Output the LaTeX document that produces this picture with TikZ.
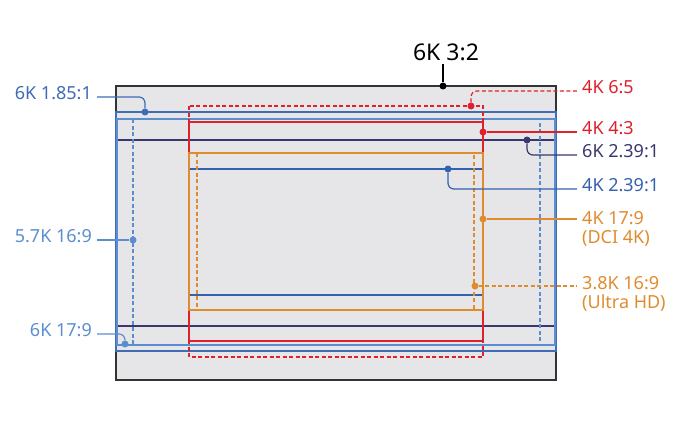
\documentclass[tikz,border=0pt]{standalone}
\usepackage{fontspec}
\setmainfont{Noto Sans}
\usetikzlibrary{positioning}
\definecolor{sensorGray}{HTML}{E6E6E8}
\definecolor{blueDark}{HTML}{3F6CB5}
\definecolor{blueLight}{HTML}{5B8ED0}
\definecolor{navyLine}{HTML}{38386E}
\definecolor{blueMid}{HTML}{3561AF}
\definecolor{redFmt}{HTML}{E0202C}
\definecolor{orangeFmt}{HTML}{E08B2E}

\begin{document}
\begin{tikzpicture}[
    x=1pt, y=-1pt,
    fmt/.style={line width=1.2pt},
    dashfmt/.style={line width=1.2pt, dash pattern=on 4pt off 2.5pt},
    lbl/.style={font=\fontsize{18}{18.8}\selectfont, inner sep=5pt},
    lead/.style={line width=1.2pt, rounded corners=6pt},
    dot/.style={circle, fill, inner sep=0pt, minimum size=7pt},
]
    \useasboundingbox (0,0) rectangle (690,420);

    % sensor area and the crop formats
    \draw[line width=1.5pt, draw=black!80, fill=sensorGray] (116,86) rectangle (556,380);
    \draw[fmt, navyLine] (116,140) -- (556,140) (116,326) -- (556,326);
    \draw[fmt, blueDark] (116,112) rectangle (556,351);
    \draw[fmt, blueLight] (117,119) rectangle (555,345);
    \draw[dashfmt, blueLight] (133,119) rectangle (540,345);
    \draw[dashfmt, redFmt] (189,106) rectangle (483,357);
    \draw[fmt, redFmt] (189,122) rectangle (483,341);
    \draw[fmt, blueMid] (189,169) -- (483,169) (189,295) -- (483,295);
    \draw[fmt, orangeFmt] (189,153) rectangle (483,310);
    \draw[dashfmt, orangeFmt] (197,153) rectangle (474,310);

    % pointer dots
    \node[dot, black] (d32) at (443,86) {};
    \node[dot, blueDark] (d185) at (145,112) {};
    \node[dot, blueLight] (d57) at (133,240) {};
    \node[dot, blueLight] (d6179) at (125,344) {};
    \node[dot, redFmt] (d65) at (471,106) {};
    \node[dot, redFmt] (d43) at (483,132) {};
    \node[dot, navyLine] (d6239) at (527,140) {};
    \node[dot, blueMid] (d4239) at (448,169) {};
    \node[dot, orangeFmt] (d4179) at (483,219) {};
    \node[dot, orangeFmt] (d38) at (475,286) {};

    % labels
    \node[font=\fontsize{23}{26}\selectfont, inner sep=3pt] (l32) at (446,52) {6K 3:2};
    \node[lbl, blueDark, anchor=mid east] (l185) at (97,97) {6K 1.85:1};
    \node[lbl, blueLight, anchor=mid east] (l57) at (97,240) {5.7K 16:9};
    \node[lbl, blueLight, anchor=mid east] (l6179) at (97,334) {6K 17:9};
    \node[lbl, redFmt, anchor=mid west] (l65) at (577,91) {4K 6:5};
    \node[lbl, redFmt, anchor=mid west] (l43) at (577,132) {4K 4:3};
    \node[lbl, navyLine, anchor=mid west] (l6239) at (577,155) {6K 2.39:1};
    \node[lbl, blueMid, anchor=mid west] (l4239) at (577,189) {4K 2.39:1};
    \node[lbl, orangeFmt, anchor=north west, align=left] (l4179) at (577,206) {4K 17:9\\(DCI 4K)};
    \node[lbl, orangeFmt, anchor=north west, align=left] (l38) at (577,271) {3.8K 16:9\\(Ultra HD)};

    % leaders
    \draw[lead, black] (d32) -- (d32 |- l32.south);
    \draw[lead, blueDark] (l185.mid east) -| (d185);
    \draw[lead, blueLight] (l57.mid east) -- (d57);
    \draw[lead, blueLight] (l6179.mid east) -| (d6179);
    \draw[lead, redFmt, dash pattern=on 4pt off 2.5pt] (d65) |- (l65.mid west);
    \draw[lead, redFmt] (d43) -- (l43.mid west);
    \draw[lead, navyLine] (d6239) |- (l6239.mid west);
    \draw[lead, blueMid] (d4239) |- (l4239.mid west);
    \draw[lead, orangeFmt] (d4179) -- (d4179 -| l4179.west);
    \draw[lead, orangeFmt, dash pattern=on 4pt off 2.5pt] (d38) -- (d38 -| l38.west);
\end{tikzpicture}
\end{document}
